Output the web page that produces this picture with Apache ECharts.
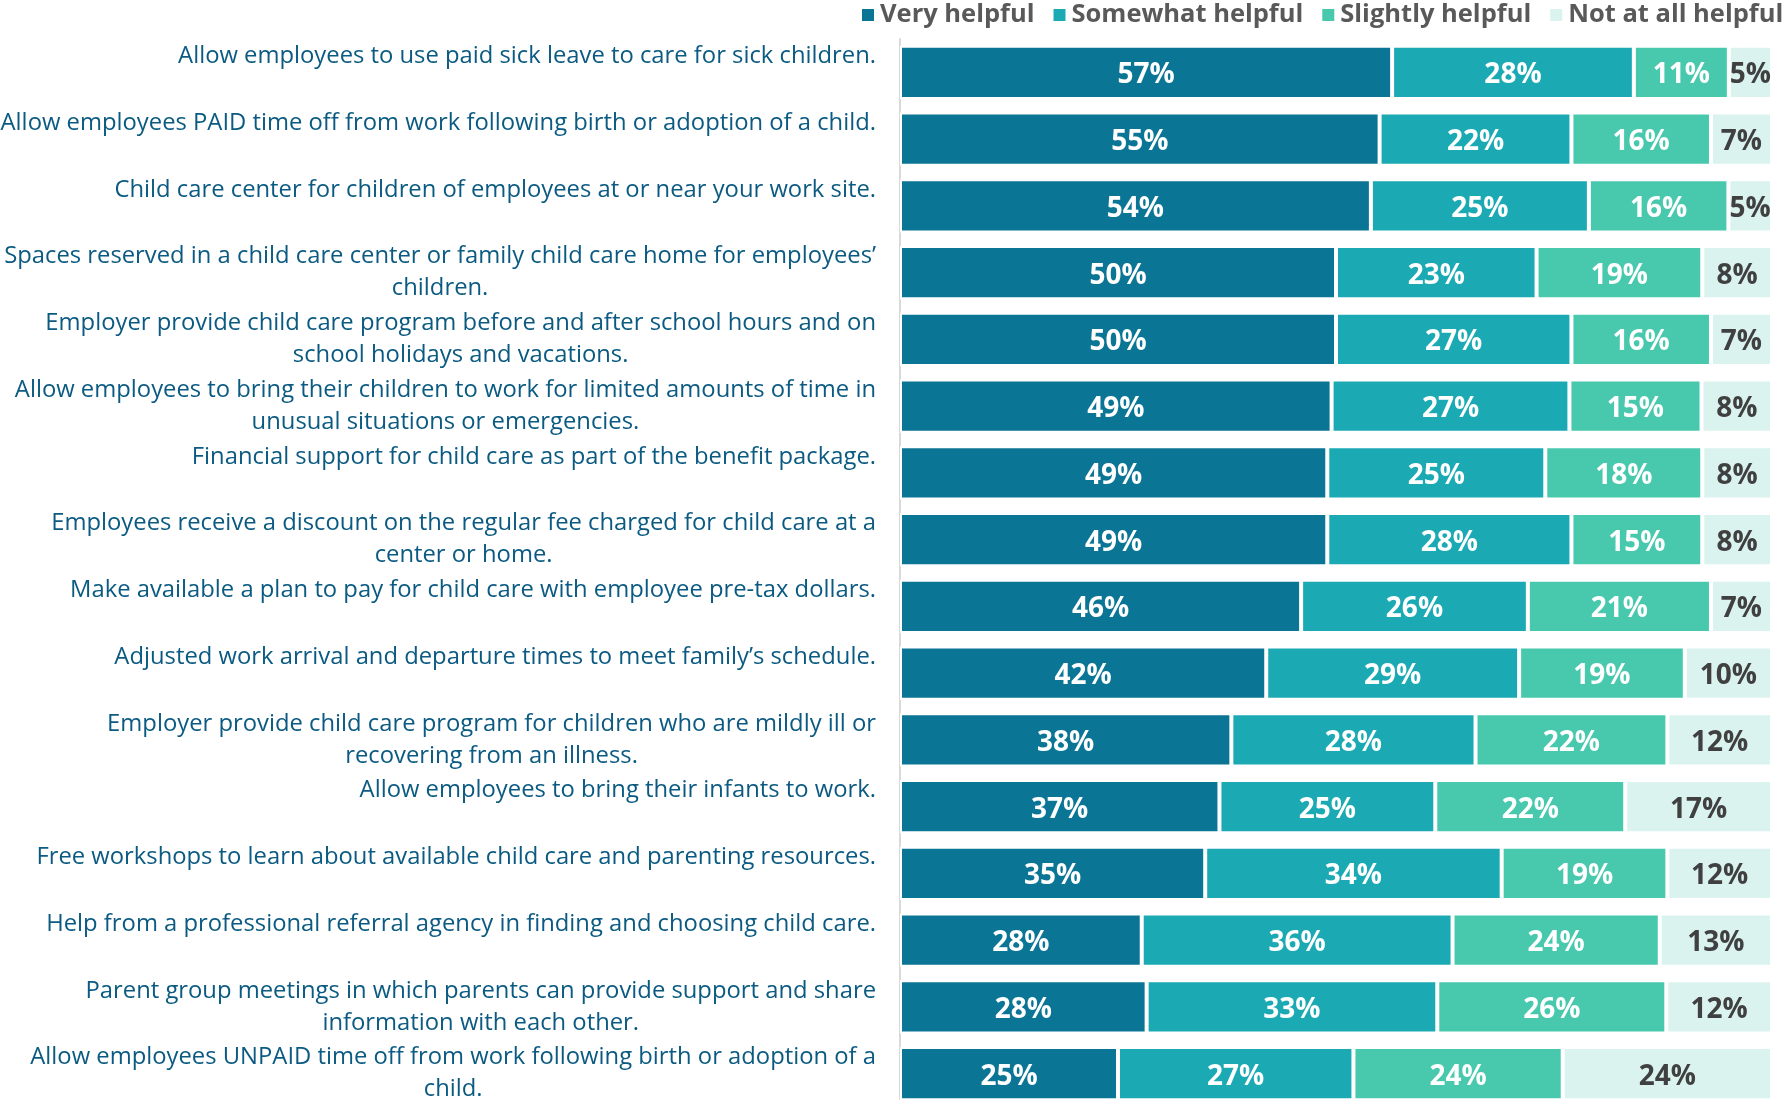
<!DOCTYPE html>
<html>
<head>
<meta charset="utf-8">
<script src="https://cdn.jsdelivr.net/npm/echarts@6/dist/echarts.min.js"></script>
<style>
  html, body { margin: 0; padding: 0; background: #ffffff; }
  #chart { width: 1782px; height: 1100px; }
</style>
</head>
<body>
<div id="chart"></div>
<script>
const categories = [
  "Allow employees to use paid sick leave to care for sick children.",
  "Allow employees PAID time off from work following birth or adoption of a child.",
  "Child care center for children of employees at or near your work site.",
  "Spaces reserved in a child care center or family child care home for employees’\nchildren.",
  "Employer provide child care program before and after school hours and on\nschool holidays and vacations.",
  "Allow employees to bring their children to work for limited amounts of time in\nunusual situations or emergencies.",
  "Financial support for child care as part of the benefit package.",
  "Employees receive a discount on the regular fee charged for child care at a\ncenter or home.",
  "Make available a plan to pay for child care with employee pre-tax dollars.",
  "Adjusted work arrival and departure times to meet family’s schedule.",
  "Employer provide child care program for children who are mildly ill or\nrecovering from an illness.",
  "Allow employees to bring their infants to work.",
  "Free workshops to learn about available child care and parenting resources.",
  "Help from a professional referral agency in finding and choosing child care.",
  "Parent group meetings in which parents can provide support and share\ninformation with each other.",
  "Allow employees UNPAID time off from work following birth or adoption of a\nchild."
];
const seriesNames = ["Very helpful", "Somewhat helpful", "Slightly helpful", "Not at all helpful"];
const veryHelpful     = [57, 55, 54, 50, 50, 49, 49, 49, 46, 42, 38, 37, 35, 28, 28, 25];
const somewhatHelpful = [28, 22, 25, 23, 27, 27, 25, 28, 26, 29, 28, 25, 34, 36, 33, 27];
const slightlyHelpful = [11, 16, 16, 19, 16, 15, 18, 15, 21, 19, 22, 22, 19, 24, 26, 24];
const notAtAllHelpful = [5, 7, 5, 8, 7, 8, 8, 8, 7, 10, 12, 17, 12, 13, 12, 24];

const allSeries = [veryHelpful, somewhatHelpful, slightlyHelpful, notAtAllHelpful];
const colors = ["#0B7595", "#1BAAB3", "#48C9AE", "#DAF3EE"];
const labelColors = ["#ffffff", "#ffffff", "#ffffff", "#404040"];
const FONT = "'Open Sans', sans-serif";

// 100% stacked: each row normalised by its own total
const rowTotals = categories.map((_, i) => allSeries.reduce((s, arr) => s + arr[i], 0));

const chart = echarts.init(document.getElementById('chart'), null, { renderer: 'canvas' });

const series = allSeries.map((arr, k) => ({
  name: seriesNames[k],
  type: 'bar',
  stack: 'total',
  barCategoryGap: '20%',
  data: arr.map((v, i) => ({ value: v / rowTotals[i] * 100, raw: v })),
  itemStyle: { color: colors[k], borderColor: '#ffffff', borderWidth: 2 },
  label: {
    show: true,
    position: 'inside',
    offset: [0, 3],
    formatter: p => p.data.raw + '%',
    color: labelColors[k],
    fontFamily: FONT,
    fontWeight: 'bold',
    fontSize: 28
  },
  emphasis: { disabled: true },
  animation: false
}));

chart.setOption({
  animation: false,
  backgroundColor: '#ffffff',
  legend: {
    data: seriesNames,
    left: 860,
    top: 2,
    width: 1400,
    padding: 0,
    itemWidth: 14,
    itemHeight: 14,
    itemGap: 17,
    icon: 'rect',
    textStyle: { color: '#595959', fontFamily: FONT, fontWeight: 'bold', fontSize: 25.5 }
  },
  grid: { left: 900, right: 10, top: 39, bottom: -7, containLabel: false, outerBoundsMode: 'none' },
  xAxis: {
    type: 'value', min: 0, max: 100, show: false
  },
  yAxis: {
    type: 'category',
    inverse: true,
    data: categories,
    axisLine: { show: true, lineStyle: { color: '#D9D9D9', width: 2 } },
    axisTick: { show: false },
    splitLine: { show: false },
    axisLabel: {
      margin: 24,
      align: 'right',
      fontFamily: FONT,
      fontSize: 23.8,
      color: '#0B5A82',
      lineHeight: 32,
      formatter: function (value) {
        const lines = value.split('\n');
        if (lines.length === 1) lines.push('\u00a0');
        return lines.map(l => '{c|' + l + '}').join('\n');
      },
      rich: {
        c: { align: 'center', fontFamily: FONT, fontSize: 23.8, color: '#0B5A82', lineHeight: 32 }
      }
    }
  },
  series: series
});
</script>
</body>
</html>
